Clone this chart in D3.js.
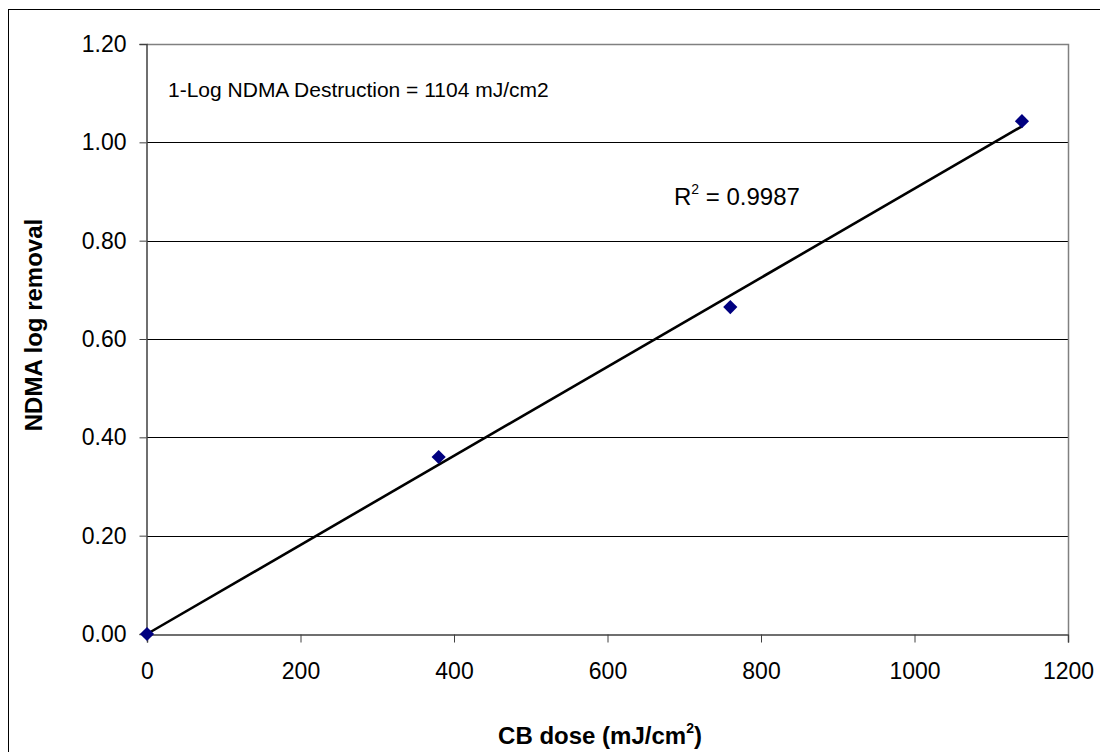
<!DOCTYPE html>
<html><head><meta charset="utf-8">
<script src="https://cdn.jsdelivr.net/npm/d3@7"></script>
<style>body{margin:0;background:#fff;} svg{display:block;font-family:Arial,"Liberation Sans",sans-serif;}</style>
</head><body>
<svg id="c" width="1100" height="752"></svg>
<script>
const doses = [0, 380, 760, 1140];
const logRemoval = [0, 0.36, 0.665, 1.043];
const xTicks = [0, 200, 400, 600, 800, 1000, 1200];
const yTicks = [0, 0.2, 0.4, 0.6, 0.8, 1.0, 1.2];
const annotation = "1-Log NDMA Destruction = 1104 mJ/cm2";
const r2Label = "0.9987";

const FF = "Arial, 'Liberation Sans', sans-serif";
const svg = d3.select("#c");
const m = {l:147, t:44, r:1068, b:634};
const x = d3.scaleLinear().domain([0,1200]).range([m.l, m.r]);
const y = d3.scaleLinear().domain([0,1.2]).range([m.b, m.t]);

// outer border
svg.append("rect").attr("x",8.5).attr("y",9.5).attr("width",1100).attr("height",800)
  .attr("fill","none").attr("stroke","#000").attr("stroke-width",1);

// gridlines
svg.append("g").selectAll("line").data(yTicks.filter(d=>d>0 && d<1.2)).join("line")
  .attr("x1",m.l).attr("x2",m.r).attr("y1",d=>Math.round(y(d))+0.5).attr("y2",d=>Math.round(y(d))+0.5)
  .attr("stroke","#000").attr("stroke-width",1);
// plot border top/right gray
svg.append("path").attr("d",`M${m.l},${m.t+0.5}H${m.r+0.5}V${m.b}`).attr("fill","none").attr("stroke","#808080").attr("stroke-width",1.5);

// axes
const xAxis = d3.axisBottom(x).tickValues(xTicks).tickSize(8).tickFormat(d3.format("d"));
const gx = svg.append("g").attr("transform",`translate(0,${m.b+0.5})`).call(xAxis);
gx.attr("font-family",FF).attr("font-size",23);
gx.select(".domain").attr("stroke","#404040").attr("stroke-width",1.5);
gx.selectAll(".tick line").attr("stroke","#404040");
gx.selectAll(".tick text").attr("fill","#000").attr("y",0).attr("dy",0).attr("transform","translate(0,44)");

const yAxis = d3.axisLeft(y).tickValues(yTicks).tickSize(7).tickFormat(d3.format(".2f"));
const gy = svg.append("g").attr("transform",`translate(${m.l-0.5},0)`).call(yAxis);
gy.attr("font-family",FF).attr("font-size",23);
gy.select(".domain").attr("stroke","#404040").attr("stroke-width",1.5);
gy.selectAll(".tick line").attr("stroke","#404040");
gy.selectAll(".tick text").attr("fill","#000").attr("x",-20);

// trendline through origin (least squares)
const slope = d3.sum(doses.map((d,i)=>d*logRemoval[i])) / d3.sum(doses.map(d=>d*d));
const xMax = d3.max(doses);
svg.append("line").attr("x1",x(0)).attr("y1",y(0)).attr("x2",x(xMax)).attr("y2",y(slope*xMax))
  .attr("stroke","#000").attr("stroke-width",2.6);

// markers
const sym = d3.symbol().type(d3.symbolDiamond2).size(128);
svg.append("g").selectAll("path").data(doses.map((d,i)=>[d,logRemoval[i]])).join("path")
  .attr("d",sym).attr("transform",d=>`translate(${x(d[0])},${y(d[1])})`)
  .attr("fill","#000080");

// annotation
svg.append("text").attr("x",168).attr("y",97).attr("font-size",21).attr("font-family",FF).text(annotation);

const r2 = svg.append("text").attr("x",674).attr("y",205).attr("font-size",24).attr("font-family",FF);
r2.append("tspan").text("R");
r2.append("tspan").attr("dy",-11).attr("font-size",14).text("2");
r2.append("tspan").attr("dy",11).text(" = " + r2Label);

// axis titles
const xt = svg.append("text").attr("x",600).attr("y",744).attr("text-anchor","middle").attr("font-size",24).attr("font-weight","bold").attr("font-family",FF);
xt.append("tspan").text("CB dose (mJ/cm");
xt.append("tspan").attr("dy",-11).attr("font-size",14).text("2");
xt.append("tspan").attr("dy",11).text(")");

svg.append("text").attr("transform","translate(42,325) rotate(-90)").attr("text-anchor","middle")
  .attr("font-size",24).attr("font-weight","bold").attr("font-family",FF).text("NDMA log removal");
</script>
</body></html>
